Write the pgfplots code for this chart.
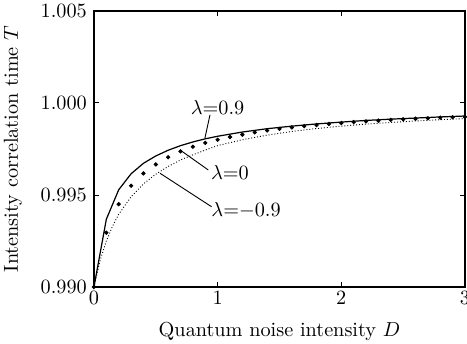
\documentclass[border=0pt]{standalone}
\usepackage{pgfplots}
\pgfplotsset{compat=1.18}
\begin{document}
\begin{tikzpicture}
\begin{axis}[
  name=ax,
  scale only axis,
  width=183.2pt, height=136.3pt,
  xmin=0, xmax=3, ymin=0.990, ymax=1.005,
  xtick={0,1,2,3},
  ytick={0.990,0.995,1.000,1.005},
  yticklabel style={/pgf/number format/.cd,fixed,fixed zerofill,precision=3},
  scaled y ticks=false,
  tick align=inside,
  major tick length=2.5pt,
  axis line style={line width=0.6pt},
  tick style={line width=0.45pt,black},
  xlabel={Quantum noise intensity $D$},
  ylabel={Intensity correlation time $T$},
  xlabel style={yshift=-2.2pt},
  ylabel style={yshift=2.3pt},
  xticklabel style={yshift=1.5pt},
  clip=false,
]
% lambda = 0.9 (solid)
\addplot[black, line width=0.6pt] coordinates {
(0,0.99000) (0.1,0.99368) (0.2,0.99528) (0.3,0.99615) (0.4,0.99672) (0.5,0.99712)
(0.6,0.99743) (0.7,0.99768) (0.8,0.99788) (0.9,0.99805) (1.0,0.99819) (1.2,0.99842)
(1.4,0.99860) (1.6,0.99874) (1.8,0.99886) (2.0,0.99896) (2.2,0.99905) (2.4,0.99912)
(2.6,0.99918) (2.8,0.99924) (3.0,0.99929)};
% lambda = 0 (dots)
\addplot[black, only marks, mark=*, mark size=0.85pt] coordinates {
(0,0.99000) (0.1,0.99295) (0.2,0.99450) (0.3,0.99550) (0.4,0.99617) (0.5,0.99666)
(0.6,0.99705) (0.7,0.99737) (0.8,0.99762) (0.9,0.99783) (1.0,0.99800) (1.1,0.99815)
(1.2,0.99828) (1.3,0.99840) (1.4,0.99850) (1.5,0.99859) (1.6,0.99867) (1.7,0.99874)
(1.8,0.99880) (1.9,0.99886) (2.0,0.99891) (2.1,0.99896) (2.2,0.99900) (2.3,0.99904)
(2.4,0.99908) (2.5,0.99911) (2.6,0.99914) (2.7,0.99917) (2.8,0.99920) (2.9,0.99922)
(3.0,0.99924)};
% lambda = -0.9 (dotted)
\addplot[black, densely dotted, line width=0.45pt] coordinates {
(0,0.99000) (0.05,0.99145) (0.1,0.99250) (0.15,0.99330) (0.2,0.99395) (0.3,0.99490)
(0.4,0.99560) (0.5,0.99613) (0.6,0.99655) (0.7,0.99690) (0.8,0.99718) (0.9,0.99744)
(1.0,0.99768) (1.2,0.99800) (1.4,0.99825) (1.6,0.99845) (1.8,0.99861) (2.0,0.99874)
(2.2,0.99885) (2.4,0.99894) (2.6,0.99902) (2.8,0.99909) (3.0,0.99915)};
% annotations
\draw[line width=0.45pt] (axis cs:0.938,0.99935) -- (axis cs:0.897,0.99808);
\node at (axis cs:1.0,0.99978) {$\lambda{=}0.9$};
\draw[line width=0.45pt] (axis cs:0.695,0.99745) -- (axis cs:0.924,0.99636);
\node at (axis cs:1.10,0.99622) {$\lambda{=}0$};
\draw[line width=0.45pt] (axis cs:0.534,0.99618) -- (axis cs:0.951,0.99436);
\node at (axis cs:1.23,0.99415) {$\lambda{=}{-}0.9$};
\end{axis}
\pgfresetboundingbox
\path ([shift={(-46.4pt,-27.7pt)}]ax.south west) rectangle ([shift={(1pt,5.4pt)}]ax.north east);
\end{tikzpicture}
\end{document}
